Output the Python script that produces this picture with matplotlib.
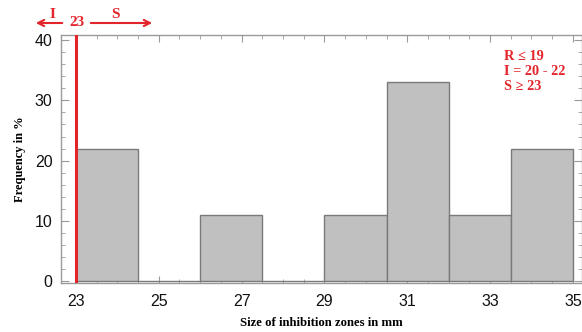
import matplotlib
matplotlib.use("Agg")
import matplotlib.pyplot as plt
import numpy as np
from matplotlib.ticker import MultipleLocator

# Data
bin_edges = [23, 24.5, 26, 27.5, 29, 30.5, 32, 33.5, 35]
frequency = [22, 0, 11, 0, 11, 33, 11, 22]
xticks = [23, 25, 27, 29, 31, 33, 35]
yticks = [0, 10, 20, 30, 40]
breakpoint_x = 23
criteria_text = "R \u2264 19\nI = 20 - 22\nS \u2265 23"

RED = "#e3242b"
SPINE = "#9a9a9a"
serif = ["Liberation Serif", "DejaVu Serif"]
sans = ["Liberation Sans", "DejaVu Sans"]

W, H = 582, 332
fig = plt.figure(figsize=(W / 100, H / 100), dpi=100)
L, R, T, B = 61, 582, 35, 283
ax = fig.add_axes([L / W, (H - B) / H, (R - L) / W, (B - T) / H])

lefts = np.array(bin_edges[:-1])
widths = np.diff(bin_edges)
ax.bar(lefts, frequency, width=widths, align="edge", color="#c0c0c0",
       edgecolor="#7a7a7a", linewidth=1.0, zorder=2)

ax.axvline(breakpoint_x, color=RED, lw=2.2, zorder=3)

ax.set_xlim(22.64, 35.22)
ax.set_ylim(-0.28, 40.83)
ax.set_xticks(xticks)
ax.set_yticks(yticks)
ax.xaxis.set_minor_locator(MultipleLocator(0.5))
ax.yaxis.set_minor_locator(MultipleLocator(2))
for lab in ax.get_xticklabels() + ax.get_yticklabels():
    lab.set_fontfamily(sans)
ax.tick_params(which="both", direction="in", top=True, right=True,
               color=SPINE, labelsize=11.5, labelcolor="#111111")
ax.tick_params(axis="x", which="major", length=5, pad=8)
ax.tick_params(axis="y", which="major", length=6, pad=6)
ax.tick_params(which="minor", length=3)
for s in ax.spines.values():
    s.set_color(SPINE)
    s.set_linewidth(1.0)

ax.set_xlabel("Size of inhibition zones in mm", family=serif,
              fontweight="bold", fontsize=9.2, labelpad=6)
ax.set_ylabel("Frequency in %", family=serif, fontweight="bold",
              fontsize=9, labelpad=6)

ax.text(0.850, 0.94, criteria_text, transform=ax.transAxes, ha="left",
        va="top", color=RED, family=serif, fontweight="bold", fontsize=10.3,
        linespacing=1.2)

# Top annotation (figure pixel coordinates, origin top-left converted)
def fp(x, y):
    return (x / W, 1 - y / H)

fig.text(*fp(52, 15), "I", color=RED, family=serif, fontweight="bold",
         fontsize=11, ha="center", va="center")
fig.text(*fp(77, 22), "23", color=RED, family=serif, fontweight="bold",
         fontsize=11, ha="center", va="center")
fig.text(*fp(115, 15), "S", color=RED, family=serif, fontweight="bold",
         fontsize=11, ha="center", va="center")
fig.add_artist(matplotlib.patches.FancyArrowPatch(
    fp(65, 23), fp(33, 23), transform=fig.transFigure, arrowstyle="->",
    mutation_scale=11, color=RED, lw=1.5))
fig.add_artist(matplotlib.patches.FancyArrowPatch(
    fp(88, 23), fp(155, 23), transform=fig.transFigure, arrowstyle="->",
    mutation_scale=11, color=RED, lw=1.5))

fig.savefig("out.png", dpi=100)
